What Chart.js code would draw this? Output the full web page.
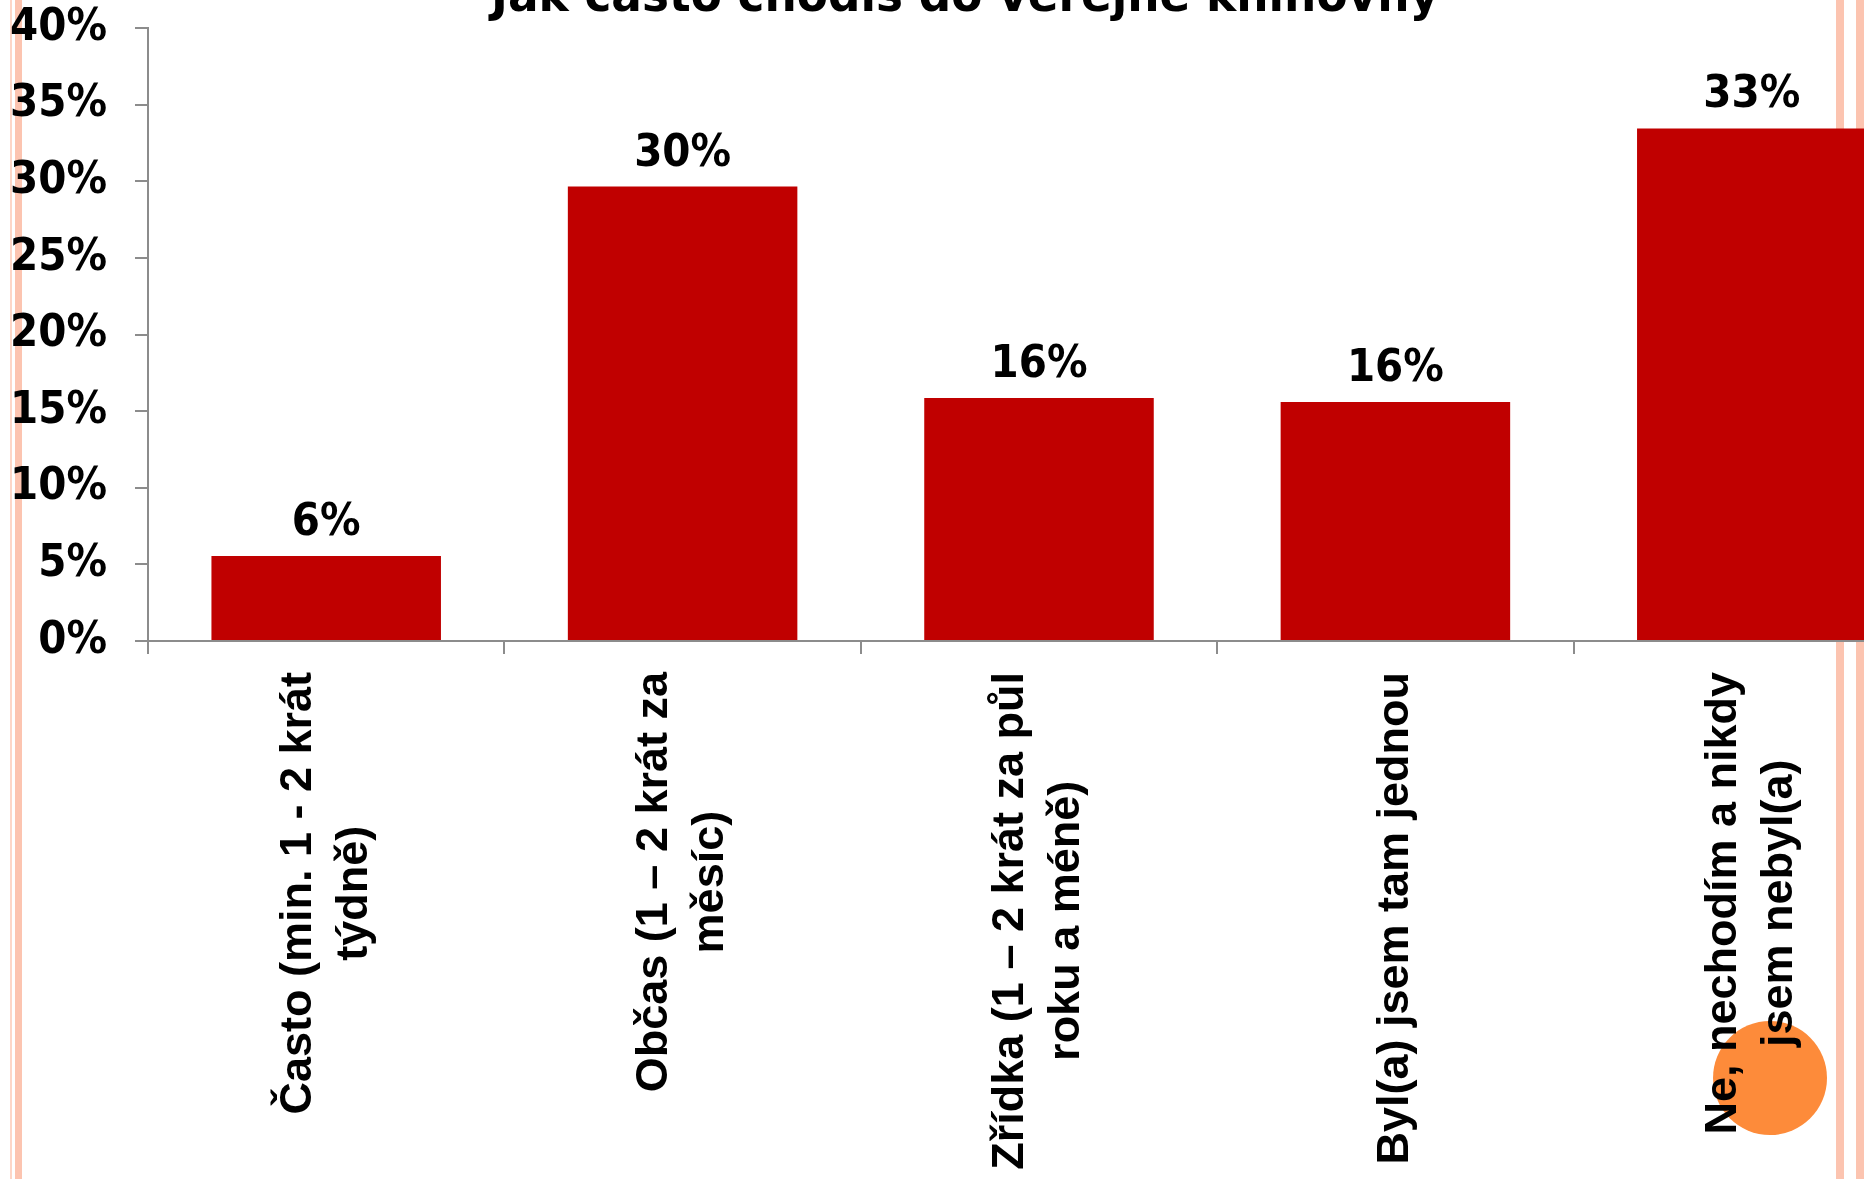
<!DOCTYPE html>
<html lang="cs">
<head>
<meta charset="utf-8">
<title>Jak často chodíš do veřejné knihovny</title>
<script src="https://cdn.jsdelivr.net/npm/chart.js@4.4.1/dist/chart.umd.min.js"></script>
<style>
  html, body { margin: 0; padding: 0; background: #fff; overflow: hidden; }
  #page { position: relative; width: 1864px; height: 1179px; overflow: hidden; }
  .stripe { position: absolute; top: 0; height: 1179px; background: #fcc4b0; }
  #dot { position: absolute; left: 1713px; top: 1021px; width: 114px; height: 114px; border-radius: 50%; background: #fd8b3a; }
  #wrap { position: absolute; left: 0; top: 0; width: 2000px; height: 1179px; }
</style>
</head>
<body>
<div id="page">
  <div class="stripe" style="left:10px;width:2px;background:#fdd6c7"></div>
  <div class="stripe" style="left:15px;width:7px"></div>
  <div class="stripe" style="left:1836px;width:8px"></div>
  <div class="stripe" style="left:1856px;width:8px"></div>
  <div id="dot"></div>
  <div id="wrap"><canvas id="chart" width="2000" height="1179"></canvas></div>
</div>
<script>
// Chart data
const title = 'Jak často chodíš do veřejné knihovny';
const categories = [
    ['Často (min. 1 - 2 krát', 'týdně)'],
    ['Občas (1 – 2 krát za', 'měsíc)'],
    ['Zřídka (1 – 2 krát za půl', 'roku a méně)'],
    ['Byl(a) jsem tam jednou'],
    ['Ne, nechodím a nikdy', 'jsem nebyl(a)']
];
const shares = [5.55, 29.65, 15.85, 15.6, 33.45];
const yTicks = [0, 5, 10, 15, 20, 25, 30, 35, 40];

const axisGrey = '#8c8c8c';
const numberFont = '"DejaVu Sans Condensed", "DejaVu Sans"';

// Title, value labels and centred category labels
const slideText = {
    id: 'slideText',
    afterDatasetsDraw(chart) {
        const ctx = chart.ctx;
        const xScale = chart.scales.x;
        const meta = chart.getDatasetMeta(0);
        ctx.save();
        ctx.fillStyle = '#000';

        // values above bars
        ctx.font = 'bold 45px ' + numberFont;
        ctx.textAlign = 'center';
        ctx.textBaseline = 'alphabetic';
        meta.data.forEach((bar, i) => {
            ctx.fillText(Math.round(shares[i]) + '%', bar.x, bar.y - 21);
        });

        // category labels, rotated, lines centred on the longest one
        ctx.font = 'bold 45px "Liberation Sans"';
        ctx.textBaseline = 'middle';
        const lineHeight = 56;
        categories.forEach((lines, i) => {
            const cx = xScale.getPixelForValue(i);
            const longest = Math.max(...lines.map(l => ctx.measureText(l).width));
            const cy = xScale.top + 31 + longest / 2;
            ctx.save();
            ctx.translate(cx, cy);
            ctx.rotate(-Math.PI / 2);
            lines.forEach((line, j) => {
                ctx.fillText(line, 0, (j - (lines.length - 1) / 2) * lineHeight);
            });
            ctx.restore();
        });

        // title (only its lower part is on the slide)
        ctx.font = 'bold 48px "DejaVu Sans"';
        ctx.textBaseline = 'alphabetic';
        const w = ctx.measureText(title).width;
        ctx.translate(965, 11);
        ctx.scale(948 / w, 1);
        ctx.fillText(title, 0, 0);
        ctx.restore();
    }
};

new Chart(document.getElementById('chart'), {
    type: 'bar',
    data: {
        labels: categories,
        datasets: [{
            data: shares,
            backgroundColor: '#c00000',
            borderWidth: 0,
            barPercentage: 0.644,
            categoryPercentage: 1
        }]
    },
    options: {
        responsive: false,
        animation: false,
        layout: {
            padding: { top: 28, right: 70, bottom: 0, left: 0 }
        },
        plugins: {
            legend: { display: false },
            tooltip: { enabled: false }
        },
        scales: {
            x: {
                ticks: { display: false },
                grid: {
                    drawOnChartArea: false,
                    drawTicks: true,
                    tickLength: 13,
                    color: axisGrey,
                    lineWidth: 2
                },
                border: { color: axisGrey, width: 2 },
                afterFit(scale) { scale.height = 1179 - 641; }
            },
            y: {
                min: 0,
                max: 40,
                afterBuildTicks(scale) {
                    scale.ticks = yTicks.map(v => ({ value: v }));
                },
                ticks: {
                    padding: 28,
                    color: '#000',
                    font: { family: numberFont, weight: 'bold', size: 45 },
                    callback: v => v + '%'
                },
                grid: {
                    drawOnChartArea: false,
                    drawTicks: true,
                    tickLength: 13,
                    color: axisGrey,
                    lineWidth: 2
                },
                border: { color: axisGrey, width: 2 },
                afterFit(scale) {
                    scale.width = 148;
                    // the top label may run into the title area, as on the slide
                    scale.paddingTop = 0;
                    scale.paddingBottom = 0;
                }
            }
        }
    },
    plugins: [slideText]
});
</script>
</body>
</html>
